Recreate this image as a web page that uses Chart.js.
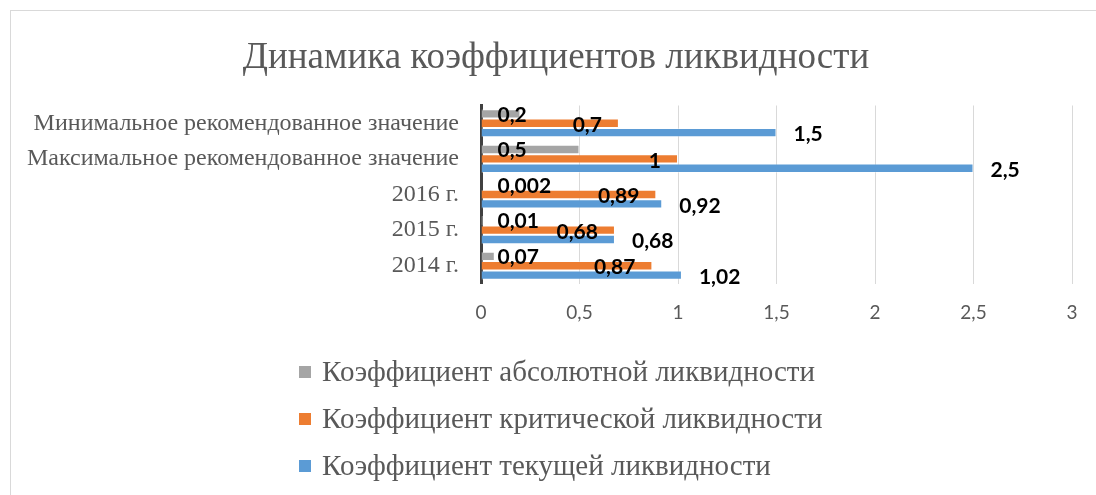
<!DOCTYPE html>
<html lang="ru">
<head>
<meta charset="utf-8">
<title>Динамика коэффициентов ликвидности</title>
<script src="https://cdn.jsdelivr.net/npm/chart.js"></script>
<style>
  html,body{margin:0;padding:0;background:#fff;overflow:hidden;}
  #box{position:absolute;left:10px;top:10px;width:1090px;height:490px;border:1px solid #d9d9d9;background:#fff;}
  #chart{display:block;}
</style>
</head>
<body>
<div id="box"><canvas id="chart" width="1090" height="490"></canvas></div>
<script>
// data
const categories = ['Минимальное рекомендованное значение', 'Максимальное рекомендованное значение', '2016 г.', '2015 г.', '2014 г.'];
const seriesNames = ['Коэффициент абсолютной ликвидности', 'Коэффициент критической ликвидности', 'Коэффициент текущей ликвидности'];
const absoluteRatio = [0.2, 0.5, 0.002, 0.01, 0.07];
const criticalRatio = [0.7, 1, 0.89, 0.68, 0.87];
const currentRatio  = [1.5, 2.5, 0.92, 0.68, 1.02];
const xTicksMin = 0, xTicksMax = 3, xTickStep = 0.5;

const colors  = ['#A5A5A5', '#ED7D31', '#5B9BD5'];
const fmt = v => String(v).replace('.', ',');

// value labels, placed the way the original sheet has them
const valueLabels = {
  id:'valueLabels',
  afterDatasetsDraw(chart){
    const ctx = chart.ctx;
    ctx.save();
    ctx.font = 'bold 21px Lato, "Liberation Sans", sans-serif';
    ctx.fillStyle = '#000';
    ctx.textBaseline = 'middle';
    chart.data.datasets.forEach((ds, i)=>{
      chart.getDatasetMeta(i).data.forEach((bar, j)=>{
        const txt = fmt(ds.data[j]);
        if(i===0){ ctx.textAlign='left';  ctx.fillText(txt, bar.base + 16, bar.y + 1); }
        if(i===1){ ctx.textAlign='right'; ctx.fillText(txt, bar.x - 17, bar.y + 2); }
        if(i===2){ ctx.textAlign='left';  ctx.fillText(txt, bar.x + 17, bar.y + 2); }
      });
    });
    ctx.restore();
  }
};

// stacked legend, one entry per row, left aligned
const rowLegend = {
  id:'rowLegend',
  afterDraw(chart){
    const ctx = chart.ctx;
    const rows = [361, 408, 455];
    ctx.save();
    ctx.font = '29px "Liberation Serif", "Times New Roman", serif';
    ctx.textBaseline = 'middle';
    ctx.textAlign = 'left';
    chart.data.datasets.forEach((ds, i)=>{
      const y = rows[i];
      ctx.fillStyle = ds.backgroundColor;
      ctx.fillRect(288, y - 6, 12, 12);
      ctx.fillStyle = '#595959';
      ctx.fillText(ds.label, 311, y + 1);
    });
    ctx.restore();
  }
};

new Chart(document.getElementById('chart'), {
  type:'bar',
  data:{
    labels: categories,
    datasets:[
      {label:seriesNames[0], data:absoluteRatio, backgroundColor:colors[0], borderColor:'rgba(255,255,255,0.35)', borderWidth:1},
      {label:seriesNames[1], data:criticalRatio, backgroundColor:colors[1], borderColor:'rgba(255,255,255,0.35)', borderWidth:1},
      {label:seriesNames[2], data:currentRatio,  backgroundColor:colors[2], borderColor:'rgba(255,255,255,0.35)', borderWidth:1}
    ]
  },
  options:{
    indexAxis:'y',
    responsive:false,
    animation:false,
    categoryPercentage:0.79,
    barPercentage:1,
    layout:{padding:{left:0, right:0, top:0, bottom:177.5}},
    plugins:{
      legend:{display:false},
      tooltip:{enabled:false},
      title:{
        display:true,
        text:'Динамика коэффициентов ликвидности',
        color:'#595959',
        font:{family:'"Liberation Serif", "Times New Roman", serif', size:37, weight:'normal'},
        padding:{top:25, bottom:25.1}
      }
    },
    scales:{
      x:{
        min:xTicksMin, max:xTicksMax,
        ticks:{stepSize:xTickStep, color:'#595959', padding:18,
               font:{family:'Lato, "Liberation Sans", sans-serif', size:19},
               callback:v=>fmt(v)},
        grid:{color:'#d9d9d9', lineWidth:1, drawTicks:false},
        border:{display:false},
        afterFit:s=>{ s.height = 40; }
      },
      y:{
        ticks:{color:'#595959', padding:22,
               font:{family:'"Liberation Serif", "Times New Roman", serif', size:24}},
        grid:{display:false, drawTicks:false},
        border:{display:true, color:'#404040', width:3},
        afterFit:s=>{ s.width = 470; }
      },
      // empty right-hand axis, only keeps the right margin so the title stays centred on the canvas
      yRight:{
        type:'linear', axis:'y', position:'right', min:0, max:1,
        ticks:{display:false},
        grid:{display:false, drawTicks:false},
        border:{display:false},
        afterFit:s=>{ s.width = 29; }
      }
    }
  },
  plugins:[valueLabels, rowLegend]
});
</script>
</body>
</html>
